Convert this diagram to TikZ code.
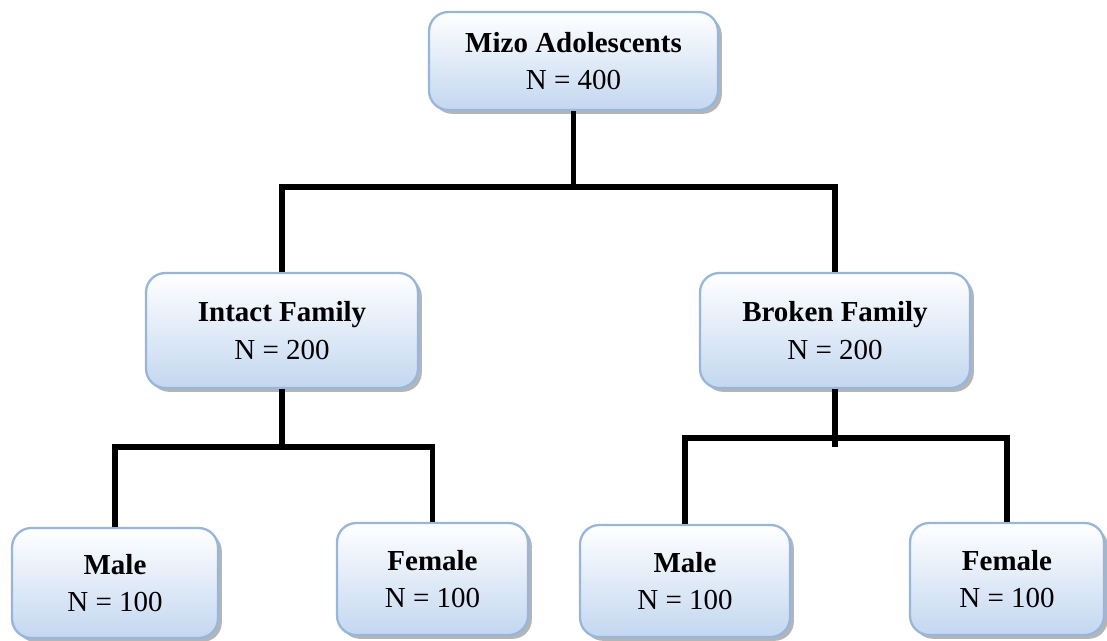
\documentclass[tikz,border=0pt]{standalone}
\usepackage{fontspec}
\setmainfont{Liberation Serif}
\usetikzlibrary{shadows}
\definecolor{boxblue}{RGB}{149, 183, 221}
\definecolor{boxfill}{RGB}{195, 215, 240}
\definecolor{shadowgray}{RGB}{120, 120, 120}

\tikzset{
  grpbox/.style={draw=boxblue, line width=1.3pt, rounded corners=11pt,
    top color=white, bottom color=boxfill, align=center, inner sep=0pt,
    font=\fontsize{16.5}{21.5}\selectfont,
    drop shadow={shadow xshift=2.2pt, shadow yshift=-2.2pt, fill=shadowgray, opacity=0.55}},
  link/.style={line width=3pt, line join=miter}
}

\begin{document}
\begin{tikzpicture}[x=0.02cm, y=-0.02cm]
    \useasboundingbox (0,0) rectangle (1107,640);

    %% groups
    \node[grpbox, minimum width=5.78cm, minimum height=1.96cm] (top) at (573.5,61)
      {\bfseries Mizo Adolescents\\N = 400};
    \node[grpbox, minimum width=5.44cm, minimum height=2.3cm] (intact) at (282,330.5)
      {\bfseries Intact Family\\N = 200};
    \node[grpbox, minimum width=5.4cm, minimum height=2.3cm] (broken) at (835,330.5)
      {\bfseries Broken Family\\N = 200};

    %% sub-groups
    \node[grpbox, minimum width=4.12cm, minimum height=2.2cm] (imale) at (115,583)
      {\bfseries Male\\N = 100};
    \node[grpbox, minimum width=3.82cm, minimum height=2.24cm] (ifemale) at (432.5,579)
      {\bfseries Female\\N = 100};
    \node[grpbox, minimum width=4.2cm, minimum height=2.24cm] (bmale) at (685,581)
      {\bfseries Male\\N = 100};
    \node[grpbox, minimum width=3.88cm, minimum height=2.24cm] (bfemale) at (1007,579)
      {\bfseries Female\\N = 100};

    %% tree lines
    \coordinate (bustop) at (573.5,187);
    \coordinate (busintact) at (282,447);
    \coordinate (stubbroken) at (835,447);
    \coordinate (busbroken) at (835,438);

    \draw[link] (top.south) -- (bustop);
    \draw[link] (intact.north) |- (bustop) -| (broken.north);

    \draw[link] (intact.south) -- (busintact);
    \draw[link] (imale.north) |- (busintact) -| (ifemale.north);

    \draw[link] (broken.south) -- (stubbroken);
    \draw[link] (bmale.north) |- (busbroken) -| (bfemale.north);
\end{tikzpicture}
\end{document}
